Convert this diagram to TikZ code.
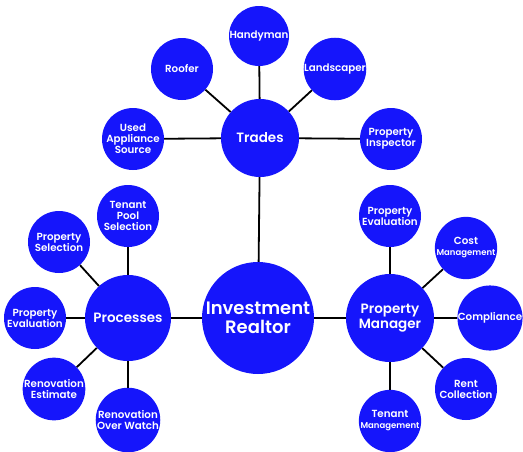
\documentclass[tikz,border=0pt]{standalone}
\usepackage{fontspec}
\setmainfont{Poppins}[BoldFont={Poppins SemiBold}]
\definecolor{nodeblue}{HTML}{1515FB}
\begin{document}
\begin{tikzpicture}[x=1pt,y=-1pt,
  bubble/.style={circle,fill=nodeblue,text=white,inner sep=0pt,align=center,font=\bfseries\fontsize{10.3}{11}\selectfont},
  leaf/.style={bubble,minimum size=62pt},
  hub/.style={bubble,minimum size=86pt,font=\bfseries\fontsize{13.5}{15}\selectfont},
  link/.style={draw=black,line width=1.8pt}]
\useasboundingbox (0,0) rectangle (523,451);
% hubs
\node[hub] (center) at (258,318) [minimum size=112pt,font=\bfseries\fontsize{18}{19.5}\selectfont] {Investment\\Realtor};
\node[hub,minimum size=78pt] (trades) at (260,138) {Trades};
\node[hub] (proc) at (128,318) {Processes};
\node[hub,minimum size=88pt] (pm) at (390,318) {Property\\Manager};
% trades leaves
\node[leaf,minimum size=60pt] (handy) at (259,36) {Handyman};
\node[leaf] (roofer) at (182,69) {Roofer};
\node[leaf] (land) at (335,69) {Landscaper};
\node[leaf] (used) at (133,139) {Used\\Appliance\\Source};
\node[leaf] (insp) at (391,139) {Property\\Inspector};
% process leaves
\node[leaf] (tps) at (128,216) {Tenant\\Pool\\Selection};
\node[leaf] (psel) at (59,242) {Property\\Selection};
\node[leaf] (pevl) at (35,318) {Property\\Evaluation};
\node[leaf] (renest) at (54,389) {Renovation\\Estimate};
\node[leaf] (renow) at (128,420) {Renovation\\Over Watch};
% manager leaves
\node[leaf] (pevr) at (390,216) {Property\\Evaluation};
\node[leaf] (cost) at (466,248) {Cost\\{\fontsize{8.5}{9.5}\selectfont Management}};
\node[leaf] (comp) at (490,318) {Compliance};
\node[leaf] (rent) at (466,389) {Rent\\Collection};
\node[leaf] (tman) at (390,421) {Tenant\\{\fontsize{8.5}{9.5}\selectfont Management}};
% connectors
\draw[link] (center) -- (trades);
\draw[link] (center) -- (proc);
\draw[link] (center) -- (pm);
\draw[link] (trades) -- (handy);
\draw[link] (trades) -- (roofer);
\draw[link] (trades) -- (land);
\draw[link] (trades) -- (used);
\draw[link] (trades) -- (insp);
\draw[link] (proc) -- (tps);
\draw[link] (proc) -- (psel);
\draw[link] (proc) -- (pevl);
\draw[link] (proc) -- (renest);
\draw[link] (proc) -- (renow);
\draw[link] (pm) -- (pevr);
\draw[link] (pm) -- (cost);
\draw[link] (pm) -- (comp);
\draw[link] (pm) -- (rent);
\draw[link] (pm) -- (tman);
\end{tikzpicture}
\end{document}
